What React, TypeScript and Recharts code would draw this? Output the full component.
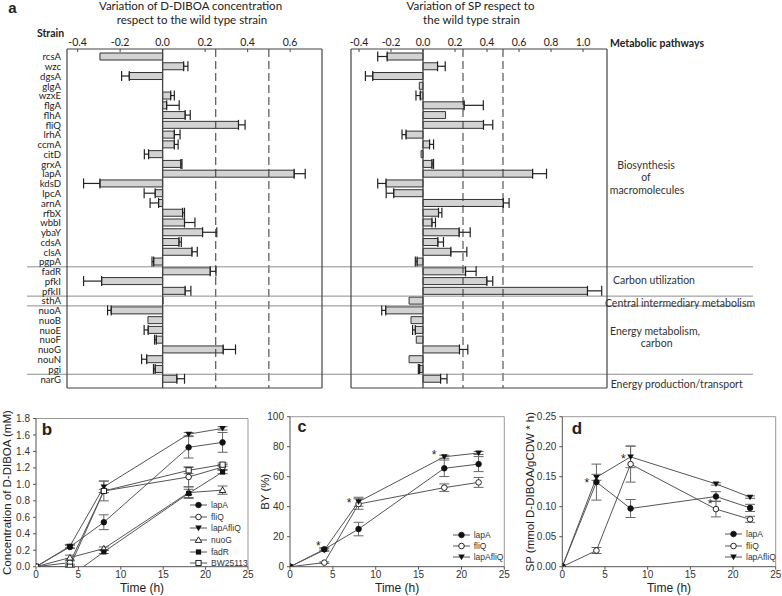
import React from 'react';
import {
  BarChart,
  Bar,
  XAxis,
  YAxis,
  ReferenceLine,
  ErrorBar,
  ComposedChart,
  Line,
  Scatter,
  Legend,
} from 'recharts';

const LATO = 'Lato, "Open Sans", sans-serif';
const ARIAL = '"Liberation Sans", Arial, sans-serif';

// ---- panel a: change respect to the wild type strain
const strains = [
  'rcsA', 'wzc', 'dgsA', 'glgA', 'wzxE', 'flgA', 'flhA', 'fliQ', 'lrhA', 'ccmA', 'citD', 'grxA',
  'lapA', 'kdsD', 'lpcA', 'arnA', 'rfbX', 'wbbI', 'ybaY', 'cdsA', 'clsA', 'pgpA', 'fadR', 'pfkI',
  'pfkII', 'sthA', 'nuoA', 'nuoB', 'nuoE', 'nuoF', 'nuoG', 'nouN', 'pgi', 'narG',
];
const diboaChange = [
  -0.295, 0.099, -0.157, 0, 0.038, 0.019, 0.106, 0.357, 0.055, 0.055, -0.066, 0.086,
  0.619, -0.295, -0.035, -0.019, 0.094, 0.103, 0.188, 0.077, 0.138, -0.042, 0.224, -0.287,
  0.106, 0.002, -0.242, -0.069, -0.068, -0.03, 0.285, -0.075, -0.035, 0.067,
];
const diboaErr = [
  0, 0.02, 0.036, 0, 0.017, 0.059, 0.024, 0.031, 0.027, 0.018, 0.02, 0.005,
  0.052, 0.077, 0.052, 0.04, 0.009, 0.049, 0.067, 0.011, 0.025, 0.008, 0.027, 0.085,
  0.027, 0, 0.017, 0, 0.019, 0.008, 0.058, 0.024, 0.008, 0.036,
];
const spChange = [
  -0.224, 0.091, -0.314, -0.023, -0.017, 0.257, 0.141, 0.378, -0.106, 0.041, -0.012, 0.056,
  0.685, -0.231, -0.183, 0.502, 0.097, 0.056, 0.226, 0.093, 0.174, -0.037, 0.266, 0.399,
  1.028, -0.087, -0.233, -0.075, -0.048, -0.042, 0.228, -0.087, -0.021, 0.11,
];
const spErr = [
  0.059, 0.048, 0.046, 0, 0.027, 0.12, 0, 0.058, 0.025, 0.025, 0, 0.01,
  0.087, 0.052, 0.047, 0.036, 0.021, 0.022, 0.069, 0.035, 0.1, 0.011, 0.066, 0.037,
  0.089, 0, 0.025, 0, 0.017, 0, 0.052, 0, 0.008, 0.04,
];
const groupEnds = ['pgpA', 'pfkII', 'sthA', 'pgi'];
const thresholds = [0.25, 0.5];
const diboaTicks = [-0.4, -0.2, 0, 0.2, 0.4, 0.6];
const spTicks = [-0.4, -0.2, 0, 0.2, 0.4, 0.6, 0.8, 1.0];

// ---- panels b-d: time courses
const times = [0, 4, 8, 18, 22];
const timeTicks = [0, 5, 10, 15, 20, 25];

const bLapA = [0, 0.24, 0.54, 1.45, 1.51];
const bLapAErr = [0, 0.02, 0.09, 0.13, 0.12];
const bFliQ = [0, 0.05, 0.92, 1.09, 1.21];
const bFliQErr = [0, 0.02, 0.12, 0.12, 0.03];
const bLapAFliQ = [0, 0.25, 0.97, 1.61, 1.68];
const bLapAFliQErr = [0, 0.02, 0.07, 0.02, 0.02];
const bNuoG = [0, 0.11, 0.22, 0.9, 0.93];
const bNuoGErr = [0, 0.03, 0.02, 0.07, 0.05];
const bFadR = [0, -0.12, 0.18, 0.89, 1.15];
const bFadRErr = [0, 0, 0.02, 0.05, 0.02];
const bBW = [0, 0, 0.92, 1.17, 1.24];
const bBWErr = [0, 0.01, 0.02, 0.04, 0.02];
const bTicks = [0, 0.2, 0.4, 0.6, 0.8, 1.0, 1.2, 1.4, 1.6, 1.8];

const cLapA = [0, 11.6, 25.1, 65.6, 68.4];
const cLapAErr = [0, 1, 4.5, 5.5, 5];
const cFliQ = [0, 2.7, 41.8, 52.7, 56.2];
const cFliQErr = [0, 0.5, 3.5, 2.5, 3.3];
const cLapAFliQ = [0, 11.1, 43.3, 73.3, 75.8];
const cLapAFliQErr = [0, 0.8, 3, 1, 1];
const cStars = [{ t: 3.3, y: 15 }, { t: 6.9, y: 44 }, { t: 16.8, y: 75.6 }];
const cTicks = [0, 20, 40, 60, 80, 100];

const dLapA = [0, 0.141, 0.097, 0.117, 0.098];
const dLapAErr = [0, 0.03, 0.015, 0.008, 0.006];
const dFliQ = [0, 0.027, 0.171, 0.096, 0.079];
const dFliQErr = [0, 0.005, 0.03, 0.013, 0.005];
const dLapAFliQ = [0, 0.149, 0.183, 0.138, 0.116];
const dLapAFliQErr = [0, 0.005, 0.018, 0.002, 0.002];
const dStars = [{ t: 2.86, y: 0.143 }, { t: 7.15, y: 0.183 }, { t: 17.3, y: 0.108 }];
const dTicks = [0, 0.05, 0.1, 0.15, 0.2, 0.25];

type Kind = 'fc' | 'oc' | 'ft' | 'ot' | 'fs' | 'os';
type SeriesDef = { name: string; kind: Kind; values: number[]; err: number[] };

const bSeries: SeriesDef[] = [
  { name: 'lapA', kind: 'fc', values: bLapA, err: bLapAErr },
  { name: 'fliQ', kind: 'oc', values: bFliQ, err: bFliQErr },
  { name: 'lapAfliQ', kind: 'ft', values: bLapAFliQ, err: bLapAFliQErr },
  { name: 'nuoG', kind: 'ot', values: bNuoG, err: bNuoGErr },
  { name: 'fadR', kind: 'fs', values: bFadR, err: bFadRErr },
  { name: 'BW25113', kind: 'os', values: bBW, err: bBWErr },
];
const cSeries: SeriesDef[] = [
  { name: 'lapA', kind: 'fc', values: cLapA, err: cLapAErr },
  { name: 'fliQ', kind: 'oc', values: cFliQ, err: cFliQErr },
  { name: 'lapAfliQ', kind: 'ft', values: cLapAFliQ, err: cLapAFliQErr },
];
const dSeries: SeriesDef[] = [
  { name: 'lapA', kind: 'fc', values: dLapA, err: dLapAErr },
  { name: 'fliQ', kind: 'oc', values: dFliQ, err: dFliQErr },
  { name: 'lapAfliQ', kind: 'ft', values: dLapAFliQ, err: dLapAFliQErr },
];

const oneSided = (v: number, e: number) => (e ? (v < 0 ? [e, 0] : [0, e]) : null);
const toRows = (vals: number[], errs: number[]) =>
  strains.map((s, i) => ({ strain: s, v: vals[i], e: oneSided(vals[i], errs[i]) }));

const toTimeRows = (series: SeriesDef[]) =>
  times.map((t, i) => {
    const row: any = { t };
    series.forEach((s) => {
      row[s.name] = s.values[i];
      row[s.name + '_e'] = s.err[i] ? s.err[i] : null;
    });
    return row;
  });

const INK = '#111';

function marker(kind: Kind, cx: number, cy: number, key?: any) {
  const r = 2.8;
  switch (kind) {
    case 'fc':
      return <circle key={key} cx={cx} cy={cy} r={r} fill={INK} stroke={INK} strokeWidth={0.8} />;
    case 'oc':
      return <circle key={key} cx={cx} cy={cy} r={r} fill="#fff" stroke={INK} strokeWidth={0.9} />;
    case 'ft':
      return (
        <polygon
          key={key}
          points={`${cx - 3.3},${cy - 2.4} ${cx + 3.3},${cy - 2.4} ${cx},${cy + 3.2}`}
          fill={INK}
        />
      );
    case 'ot':
      return (
        <polygon
          key={key}
          points={`${cx - 3.3},${cy + 2.4} ${cx + 3.3},${cy + 2.4} ${cx},${cy - 3.2}`}
          fill="#fff"
          stroke={INK}
          strokeWidth={0.9}
        />
      );
    case 'fs':
      return <rect key={key} x={cx - 2.6} y={cy - 2.6} width={5.2} height={5.2} fill={INK} />;
    default:
      return (
        <rect key={key} x={cx - 2.6} y={cy - 2.6} width={5.2} height={5.2} fill="#fff" stroke={INK} strokeWidth={0.9} />
      );
  }
}

function Txt({
  x,
  y,
  children,
  size = 11,
  bold = false,
  font = LATO,
  color = '#222',
}: {
  x: number;
  y: number;
  children: React.ReactNode;
  size?: number;
  bold?: boolean;
  font?: string;
  color?: string;
}) {
  return (
    <div
      style={{
        position: 'absolute',
        left: x,
        top: y,
        transform: 'translate(-50%, -50%)',
        fontSize: size,
        fontWeight: bold ? 700 : 400,
        fontFamily: font,
        color,
        whiteSpace: 'nowrap',
        lineHeight: 1,
      }}
    >
      {children}
    </div>
  );
}

const sepShape = (extL: number, extR: number) => (p: any) => {
  const a = Math.min(p.x1, p.x2);
  const b = Math.max(p.x1, p.x2);
  return <line x1={a - extL} x2={b + extR} y1={p.y1} y2={p.y2} stroke="#8c8c8c" strokeWidth={1} />;
};

function ChangeChart({
  rows,
  domain,
  ticks,
  width,
  rightMargin,
  nameWidth,
  extL,
  extR,
}: {
  rows: any[];
  domain: [number, number];
  ticks: number[];
  width: number;
  rightMargin: number;
  nameWidth: number;
  extL: number;
  extR: number;
}) {
  const showNames = nameWidth > 1;
  return (
    <BarChart
      width={width}
      height={400}
      data={rows}
      layout="vertical"
      margin={{ top: 0, right: rightMargin, bottom: 2, left: 0 }}
    >
      <XAxis
        type="number"
        orientation="top"
        domain={domain}
        ticks={ticks}
        allowDataOverflow
        height={49}
        tickSize={-3}
        tickMargin={6}
        tickFormatter={(v: number) => v.toFixed(1)}
        tick={{ fontSize: 10.5, fill: '#222', fontFamily: LATO }}
        tickLine={{ stroke: '#444' }}
        axisLine={{ stroke: '#444', strokeWidth: 1.2 }}
      />
      <XAxis
        xAxisId="b"
        type="number"
        orientation="bottom"
        domain={domain}
        ticks={ticks}
        allowDataOverflow
        height={10}
        tickSize={-3}
        tick={false}
        tickLine={{ stroke: '#444' }}
        axisLine={{ stroke: '#444', strokeWidth: 1.2 }}
      />
      <YAxis
        type="category"
        dataKey="strain"
        width={nameWidth}
        interval={0}
        padding={{ top: 3, bottom: 4 }}
        tick={showNames ? { fontSize: 9.6, fill: '#222', fontFamily: LATO } : false}
        tickLine={false}
        tickSize={0}
        tickMargin={6}
        axisLine={{ stroke: '#444', strokeWidth: 1.2 }}
      />
      <YAxis
        yAxisId="r"
        orientation="right"
        type="category"
        dataKey="strain"
        width={1}
        tick={false}
        tickLine={false}
        axisLine={{ stroke: '#444', strokeWidth: 1.2 }}
      />
      {thresholds.map((t) => (
        <ReferenceLine key={t} x={t} stroke="#333" strokeWidth={1} strokeDasharray="8 4" />
      ))}
      {groupEnds.map((s) => (
        <ReferenceLine key={s} y={s} position="end" shape={sepShape(extL, extR)} />
      ))}
      <Bar dataKey="v" barSize={7} fill="#d3d3d3" stroke="#333" strokeWidth={1} isAnimationActive={false}>
        <ErrorBar dataKey="e" direction="x" width={5} stroke="#222" strokeWidth={1.2} />
      </Bar>
      <ReferenceLine x={0} stroke="#444" strokeWidth={1.3} />
    </BarChart>
  );
}

function LegendBox({ series, rowH }: { series: SeriesDef[]; rowH: number }) {
  return (
    <div style={{ fontFamily: ARIAL, fontSize: 8.5, color: '#333' }}>
      {series.map((s) => (
        <div key={s.name} style={{ display: 'flex', alignItems: 'center', height: rowH }}>
          <svg width={18} height={8} style={{ display: 'block' }}>
            <line x1={0} x2={17} y1={4} y2={4} stroke="#555" strokeWidth={1} />
            {marker(s.kind, 8.5, 4)}
          </svg>
          <span style={{ marginLeft: 3 }}>{s.name}</span>
        </div>
      ))}
    </div>
  );
}

function StarShape(p: any) {
  if (p.cx == null || p.cy == null) return <g />;
  return (
    <text x={p.cx} y={p.cy + 6} textAnchor="middle" fontSize={12} fontFamily={ARIAL} fill="#222">
      *
    </text>
  );
}

function TimeChart({
  series,
  width,
  yDomain,
  yTicks,
  yDigits,
  yWidth,
  yLabel,
  labelOffset,
  top,
  right,
  legendPos,
  rowH,
  stars,
}: {
  series: SeriesDef[];
  width: number;
  yDomain: [number, number];
  yTicks: number[];
  yDigits: number;
  yWidth: number;
  yLabel: string;
  labelOffset: number;
  top: number;
  right: number;
  legendPos: { left: number; top: number };
  rowH: number;
  stars?: { t: number; y: number }[];
}) {
  const rows = toTimeRows(series);
  const tickStyle = { fontSize: 10, fill: '#333', fontFamily: ARIAL };
  return (
    <ComposedChart width={width} height={191} data={rows} margin={{ top, right, bottom: 0, left: 0 }}>
      <XAxis
        type="number"
        dataKey="t"
        domain={[0, 25]}
        ticks={timeTicks}
        allowDataOverflow
        height={29.3}
        tickSize={3}
        tickMargin={1}
        tick={tickStyle}
        tickLine={{ stroke: '#555' }}
        axisLine={{ stroke: '#555' }}
        label={{
          value: 'Time (h)',
          position: 'insideBottom',
          offset: 4,
          style: { fontSize: 12, fill: '#222', fontFamily: ARIAL },
        }}
      />
      <YAxis
        type="number"
        domain={yDomain}
        ticks={yTicks}
        allowDataOverflow
        width={yWidth}
        tickSize={3}
        tickMargin={3}
        tickFormatter={(v: number) => v.toFixed(yDigits)}
        tick={tickStyle}
        tickLine={{ stroke: '#555' }}
        axisLine={{ stroke: '#555' }}
        label={{
          value: yLabel,
          angle: -90,
          position: 'insideLeft',
          offset: labelOffset,
          style: { textAnchor: 'middle', fontSize: 11.5, fill: '#222', fontFamily: ARIAL },
        }}
      />
      <ReferenceLine y={yDomain[1]} stroke="#999" strokeWidth={1} />
      <ReferenceLine x={25} stroke="#999" strokeWidth={1} />
      {series.map((s) => (
        <Line
          key={s.name}
          type="linear"
          dataKey={s.name}
          stroke="#555"
          strokeWidth={1}
          isAnimationActive={false}
          dot={(p: any) => marker(s.kind, p.cx, p.cy, `${s.name}-${p.index}`)}
          activeDot={false}
        >
          <ErrorBar dataKey={s.name + '_e'} direction="y" width={5} stroke="#666" strokeWidth={1} />
        </Line>
      ))}
      {stars && (
        <Scatter data={stars} dataKey="y" shape={StarShape} isAnimationActive={false} />
      )}
      <Legend
        layout="vertical"
        align="center"
        verticalAlign="middle"
        wrapperStyle={{ left: legendPos.left, top: legendPos.top, width: 80 }}
        content={() => <LegendBox series={series} rowH={rowH} />}
      />
    </ComposedChart>
  );
}

export default function App() {
  const diboaRows = toRows(diboaChange, diboaErr);
  const spRows = toRows(spChange, spErr);
  return (
    <div style={{ position: 'relative', width: 782, height: 596, background: '#fff', overflow: 'hidden' }}>
      <style>{'body{margin:0}'}</style>

      <div style={{ position: 'absolute', left: 0, top: 0 }}>
        <ChangeChart
          rows={diboaRows}
          domain={[-0.45, 0.75]}
          ticks={diboaTicks}
          width={350}
          rightMargin={27}
          nameWidth={67}
          extL={40}
          extR={28}
        />
      </div>
      <div style={{ position: 'absolute', left: 350, top: 0 }}>
        <ChangeChart
          rows={spRows}
          domain={[-0.45, 1.15]}
          ticks={spTicks}
          width={432}
          rightMargin={174}
          nameWidth={1}
          extL={1}
          extR={146}
        />
      </div>

      <Txt x={12.5} y={7} size={15} bold font={ARIAL}>a</Txt>
      <Txt x={190.5} y={6} size={11.5}>Variation of D-DIBOA concentration</Txt>
      <Txt x={192} y={20} size={11.5}>respect to the wild type strain</Txt>
      <Txt x={470.5} y={6} size={11.5}>Variation of SP respect to</Txt>
      <Txt x={471.5} y={20} size={11.5}>the wild type strain</Txt>
      <Txt x={50.5} y={33} size={10.5} bold>Strain</Txt>
      <Txt x={657} y={43} size={10.5} bold>Metabolic pathways</Txt>
      <Txt x={646} y={164.5} size={10.5} color="#333">Biosynthesis</Txt>
      <Txt x={646} y={177} size={10.5} color="#333">of</Txt>
      <Txt x={647} y={190} size={10.5} color="#333">macromolecules</Txt>
      <Txt x={654} y={280} size={10.5} color="#333">Carbon utilization</Txt>
      <Txt x={680} y={302.7} size={10.5} color="#333">Central intermediary metabolism</Txt>
      <Txt x={655} y={330.7} size={10.5} color="#333">Energy metabolism,</Txt>
      <Txt x={656.7} y={343.3} size={10.5} color="#333">carbon</Txt>
      <Txt x={676.7} y={384} size={10.5} color="#333">Energy production/transport</Txt>

      <div style={{ position: 'absolute', left: 0, top: 405 }}>
        <TimeChart
          series={bSeries}
          width={260}
          yDomain={[0, 1.8]}
          yTicks={bTicks}
          yDigits={1}
          yWidth={36}
          yLabel="Concentration of D-DIBOA (mM)"
          labelOffset={7}
          top={13.5}
          right={12}
          legendPos={{ left: 190, top: 94 }}
          rowH={11.7}
        />
      </div>
      <div style={{ position: 'absolute', left: 260, top: 405 }}>
        <TimeChart
          series={cSeries}
          width={260}
          yDomain={[0, 100]}
          yTicks={cTicks}
          yDigits={0}
          yWidth={30}
          yLabel="BY (%)"
          labelOffset={5}
          top={11.7}
          right={15.7}
          legendPos={{ left: 192.7, top: 124.5 }}
          rowH={11}
          stars={cStars}
        />
      </div>
      <div style={{ position: 'absolute', left: 520, top: 405 }}>
        <TimeChart
          series={dSeries}
          width={262}
          yDomain={[0, 0.25]}
          yTicks={dTicks}
          yDigits={2}
          yWidth={42.3}
          yLabel="SP (mmol D-DIBOA/gCDW * h)"
          labelOffset={10}
          top={11.7}
          right={6.3}
          legendPos={{ left: 205, top: 123.6 }}
          rowH={11.3}
          stars={dStars}
        />
      </div>

      <Txt x={47} y={429} size={17} bold font={ARIAL}>b</Txt>
      <Txt x={302} y={427} size={16} bold font={ARIAL}>c</Txt>
      <Txt x={577} y={428} size={17} bold font={ARIAL}>d</Txt>
    </div>
  );
}
